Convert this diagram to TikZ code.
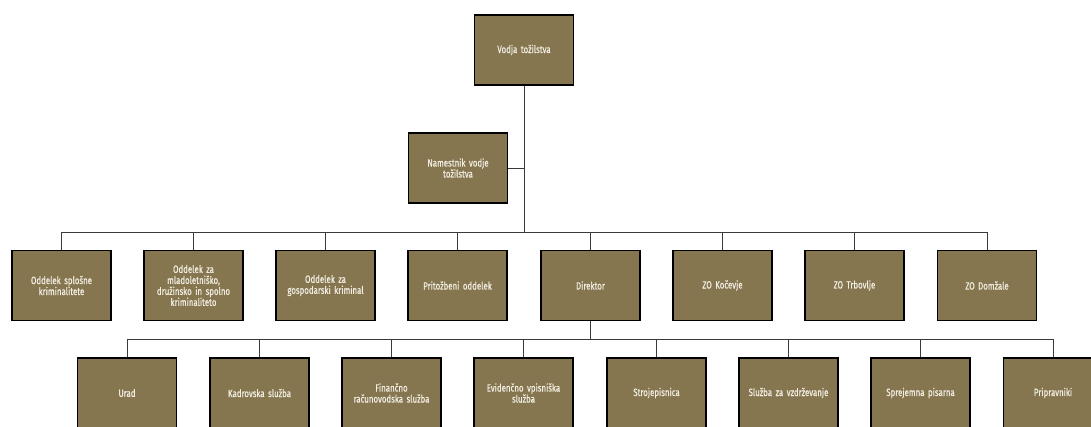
\documentclass[tikz,border=0pt]{standalone}
\usepackage{fontspec}
\setmainfont{Fira Sans}[FakeStretch=0.75, FakeBold=0.6]
\definecolor{boxfill}{HTML}{857650}
\definecolor{boxtext}{HTML}{F2EEE2}
\definecolor{linecol}{HTML}{3A3A3A}
\tikzset{
  orgbox/.style={draw=black, line width=1.1pt, fill=boxfill, minimum width=99pt, minimum height=70pt,
    text width=92pt, align=center, inner sep=0pt, text=boxtext,
    font=\fontsize{10.5}{11}\selectfont},
  conn/.style={draw=linecol, line width=0.9pt}
}
\begin{document}
\begin{tikzpicture}[x=1pt,y=1pt]
\useasboundingbox (0,0) rectangle (1091,-426);
\clip (0,0) rectangle (1091,-426);
% top
\node[orgbox] (top) at (524,-50) {Vodja tožilstva};
\node[orgbox] (nam) at (458,-168) {Namestnik vodje\\tožilstva};
% row 2
\node[orgbox] (a1) at (61.5,-285.5) {Oddelek splošne\\kriminalitete};
\node[orgbox] (a2) at (193.5,-285.5) {Oddelek za\\mladoletniško,\\družinsko in spolno\\kriminaliteto};
\node[orgbox] (a3) at (325.5,-285.5) {Oddelek za\\gospodarski kriminal};
\node[orgbox] (a4) at (457.5,-285.5) {Pritožbeni oddelek};
\node[orgbox] (a5) at (590.5,-285.5) {Direktor};
\node[orgbox] (a6) at (722.5,-285.5) {ZO Kočevje};
\node[orgbox] (a7) at (854.5,-285.5) {ZO Trbovlje};
\node[orgbox] (a8) at (987,-285.5) {ZO Domžale};
% row 3
\node[orgbox] (b1) at (127,-393) {Urad};
\node[orgbox] (b2) at (259.5,-393) {Kadrovska služba};
\node[orgbox] (b3) at (391.5,-393) {Finančno\\računovodska služba};
\node[orgbox] (b4) at (523.5,-393) {Evidenčno vpisniška\\služba};
\node[orgbox] (b5) at (656.5,-393) {Strojepisnica};
\node[orgbox] (b6) at (788.5,-393) {Služba za vzdrževanje};
\node[orgbox] (b7) at (920.5,-393) {Sprejemna pisarna};
\node[orgbox] (b8) at (1053,-393) {Pripravniki};
% bars
\coordinate (barA) at (0,-232);
\coordinate (barB) at (0,-339);
\draw[conn] (top.south) -- (top.south |- barA);
\draw[conn] (nam.east) -- (nam.east -| top.south);
\draw[conn] (a1.north |- barA) -- (a8.north |- barA);
\foreach \n in {a1,a2,a3,a4,a5,a6,a7,a8} {
  \draw[conn] (\n.north) -- (\n.north |- barA);
}
\draw[conn] (a5.south) -- (a5.south |- barB);
\draw[conn] (b1.north |- barB) -- (b8.north |- barB);
\foreach \n in {b1,b2,b3,b4,b5,b6,b7,b8} {
  \draw[conn] (\n.north) -- (\n.north |- barB);
}
\end{tikzpicture}
\end{document}
